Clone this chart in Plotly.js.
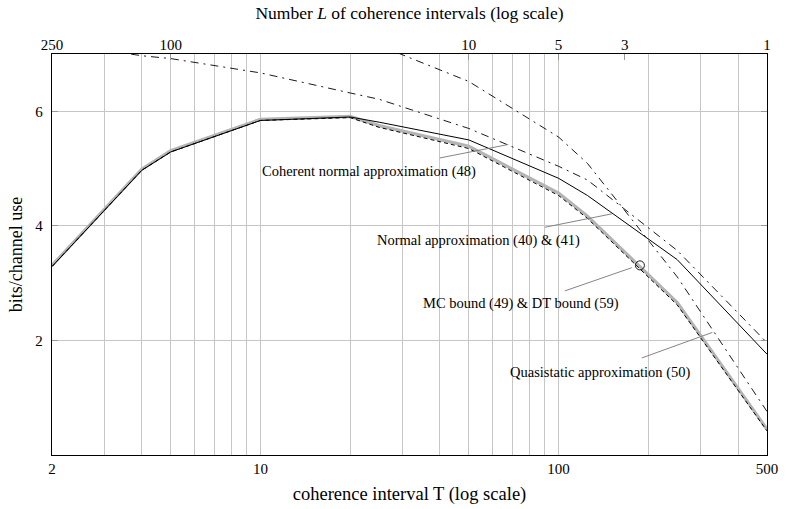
<!DOCTYPE html>
<html><head><meta charset="utf-8">
<script src="https://cdn.plot.ly/plotly-3.0.1.min.js"></script>
<style>body{margin:0;padding:0;background:#fff;}#chart{width:786px;height:509px;}</style>
</head><body><div id="chart"></div>
<script>
// blocklength n (T * L = n)
const n = 500;
// coherence interval T values at which the curves are evaluated
const T = [2, 4, 5, 10, 20, 25, 50, 100, 125, 250, 500];
const mcBound        = [3.31, 4.99, 5.31, 5.86, 5.91, 5.75, 5.39, 4.57, 4.17, 2.66, 0.45];
const dtBound        = [3.29, 4.97, 5.29, 5.84, 5.89, 5.72, 5.35, 4.53, 4.13, 2.62, 0.42];
const normalApprox   = [3.29, 4.97, 5.29, 5.84, 5.90, 5.81, 5.50, 4.83, 4.53, 3.41, 1.76];
const coherentApprox = [7.20, 6.97, 6.92, 6.67, 6.32, 6.21, 5.70, 5.04, 4.80, 3.57, 1.96];
const T_qs = [25, 50, 100, 125, 250, 500];
const quasistatic    = [7.15, 6.52, 5.55, 5.09, 3.11, 0.76];

// axis ticks
const xGrid = [2,3,4,5,6,7,8,9,10,20,30,40,50,60,70,80,90,100,200,300,400,500];
const xLabeled = [2, 10, 100, 500];
const lTicks = [250, 100, 10, 5, 3, 1];
const yTicks = [2, 4, 6];

const FONT = 'Liberation Serif, Times New Roman, serif';
const lg = Math.log10;
const xr = [lg(2), lg(500)];

const traces = [
  {x: T, y: mcBound, mode: 'lines', name: 'MC bound (49)', line: {color: '#b4b4b4', width: 3.2}},
  {x: T, y: dtBound, mode: 'lines', name: 'DT bound (59)', line: {color: '#000', width: 1, dash: '4px,3px'}},
  {x: T, y: normalApprox, mode: 'lines', name: 'Normal approximation', line: {color: '#000', width: 1}},
  {x: T, y: coherentApprox, mode: 'lines', name: 'Coherent normal approximation', line: {color: '#000', width: 0.9, dash: '8px,5px,2px,5px'}},
  {x: T_qs, y: quasistatic, mode: 'lines', name: 'Quasistatic approximation', line: {color: '#000', width: 0.9, dash: '8px,5px,2px,5px'}},
  {x: [2, 500], y: [0, 0], xaxis: 'x2', mode: 'lines', line: {width: 0}, opacity: 0, hoverinfo: 'skip', showlegend: false}
];

function leader(t0, y0, t1, y1) {
  return {x: lg(t1), y: y1, ax: lg(t0), ay: y0, xref: 'x', yref: 'y', axref: 'x', ayref: 'y',
          text: '', showarrow: true, arrowhead: 0, arrowwidth: 0.9, arrowcolor: '#777', standoff: 0, startstandoff: 0};
}
function label(t, y, txt) {
  return {x: lg(t), y: y, xref: 'x', yref: 'y', text: txt, showarrow: false,
          font: {family: FONT, size: 14.5, color: '#000'}};
}

const layout = {
  width: 786, height: 509,
  margin: {l: 52, r: 19, t: 54, b: 54},
  paper_bgcolor: '#fff', plot_bgcolor: '#fff',
  showlegend: false,
  font: {family: FONT, color: '#000', size: 15},
  xaxis: {
    type: 'log', range: xr,
    tickmode: 'array', tickvals: xGrid,
    ticktext: xGrid.map(v => xLabeled.includes(v) ? String(v) : ''),
    showgrid: true, gridcolor: '#c6c6c6', gridwidth: 1,
    ticks: '', showline: true, linecolor: '#000', linewidth: 1.3, mirror: true,
    zeroline: false,
    tickfont: {family: FONT, size: 15},
    title: {text: 'coherence interval T (log scale)', font: {family: FONT, size: 18.5}, standoff: 10}
  },
  xaxis2: {
    type: 'log', range: xr, overlaying: 'x', side: 'top',
    tickmode: 'array', tickvals: lTicks.map(L => n / L), ticktext: lTicks.map(String),
    showgrid: false, ticks: 'inside', ticklen: 6, tickcolor: '#999', showline: false,
    zeroline: false,
    tickfont: {family: FONT, size: 15},
    title: {text: 'Number <i>L</i> of coherence intervals (log scale)', font: {family: FONT, size: 17.5}, standoff: 12}
  },
  yaxis: {
    range: [0, 7], tickmode: 'array', tickvals: yTicks, ticktext: yTicks.map(String),
    showgrid: true, gridcolor: '#c6c6c6', gridwidth: 1,
    ticks: 'inside', ticklen: 6, tickcolor: '#999', mirror: 'ticks',
    showline: true, linecolor: '#000', linewidth: 1.3, zeroline: false,
    ticklabelstandoff: 5,
    tickfont: {family: FONT, size: 15},
    title: {text: 'bits/channel use', font: {family: FONT, size: 18}, standoff: 8}
  },
  annotations: [
    label(23.2, 4.95, 'Coherent normal approximation (48)'),
    leader(39.5, 5.18, 67.8, 5.42),
    label(53.8, 3.745, 'Normal approximation (40) &amp; (41)'),
    leader(88.9, 3.97, 151, 4.21),
    label(75.0, 2.645, 'MC bound (49) &amp; DT bound (59)'),
    leader(103.7, 2.855, 176, 3.27),
    label(138, 1.44, 'Quasistatic approximation (50)'),
    leader(188, 1.685, 328, 2.14)
  ],
  shapes: [
    {type: 'circle', xref: 'x', yref: 'y', xsizemode: 'pixel', ysizemode: 'pixel',
     xanchor: 181, yanchor: 3.31, x0: -9, x1: 9, y0: -4.5, y1: 4.5,
     line: {color: '#000', width: 0.9}, fillcolor: 'rgba(0,0,0,0)'}
  ]
};

Plotly.newPlot('chart', traces, layout, {displayModeBar: false, staticPlot: true});
</script></body></html>
